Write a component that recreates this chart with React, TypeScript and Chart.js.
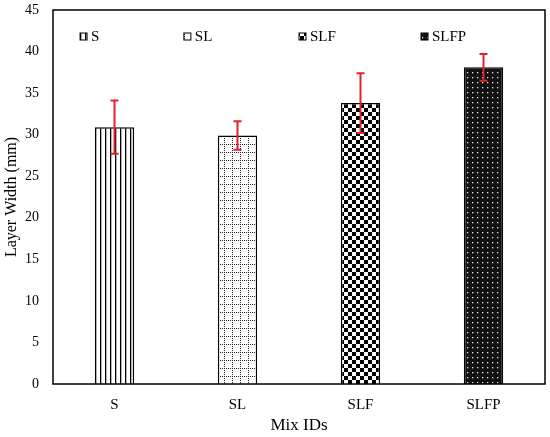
import { useRef, useEffect } from 'react';
import Chart from 'chart.js/auto';

const mixIds = ['S', 'SL', 'SLF', 'SLFP'];
const layerWidth = [30.9, 29.9, 33.8, 38.1];
const layerError = [3.2, 1.7, 3.6, 1.6];
const yTicks = [0, 5, 10, 15, 20, 25, 30, 35, 40, 45];

const FONT = "'Liberation Serif', 'Times New Roman', serif";

// little tiles that imitate the Excel pattern fills
function makePattern(kind: string): CanvasPattern | string {
  const c = document.createElement('canvas');
  const g = c.getContext('2d');
  if (!g) return '#fff';
  if (kind === 'lines') {
    c.width = 5; c.height = 5;
    g.fillStyle = '#fff'; g.fillRect(0, 0, 5, 5);
    g.fillStyle = '#000'; g.fillRect(0, 0, 1.3, 5);
  } else if (kind === 'grid') {
    c.width = 8; c.height = 8;
    g.fillStyle = '#fff'; g.fillRect(0, 0, 8, 8);
    g.fillStyle = '#222';
    for (let i = 0; i < 8; i += 2) {
      g.fillRect(0, i, 1, 1);
      g.fillRect(i, 0, 1, 1);
    }
  } else if (kind === 'checker') {
    c.width = 8; c.height = 8;
    g.fillStyle = '#fff'; g.fillRect(0, 0, 8, 8);
    g.fillStyle = '#000';
    g.fillRect(0, 0, 4, 4);
    g.fillRect(4, 4, 4, 4);
  } else {
    c.width = 5; c.height = 5;
    g.fillStyle = '#111'; g.fillRect(0, 0, 5, 5);
    g.fillStyle = '#e6e6e6'; g.fillRect(2, 2, 1.3, 1.3);
  }
  return g.createPattern(c, 'repeat') || '#fff';
}

export default function App() {
  const chartRef = useRef<HTMLCanvasElement>(null);
  const chartInstance = useRef<Chart | null>(null);

  useEffect(() => {
    document.body.style.margin = '0';
    if (!chartRef.current) return;
    if (chartInstance.current) chartInstance.current.destroy();
    const ctx = chartRef.current.getContext('2d');
    if (!ctx) return;

    const fills = ['lines', 'grid', 'checker', 'dots'].map(makePattern);

    const errorBars = {
      id: 'errorBars',
      afterDatasetsDraw(chart: any) {
        const { ctx: c, scales } = chart;
        const meta = chart.getDatasetMeta(0);
        c.save();
        c.strokeStyle = '#e3232b';
        c.lineWidth = 2;
        meta.data.forEach((bar: any, i: number) => {
          const top = scales.y.getPixelForValue(layerWidth[i] + layerError[i]);
          const bot = scales.y.getPixelForValue(layerWidth[i] - layerError[i]);
          c.beginPath();
          c.moveTo(bar.x, top); c.lineTo(bar.x, bot);
          c.moveTo(bar.x - 4, top); c.lineTo(bar.x + 4, top);
          c.moveTo(bar.x - 4, bot); c.lineTo(bar.x + 4, bot);
          c.stroke();
        });
        c.restore();
      },
    };

    const frameAndLegend = {
      id: 'frameAndLegend',
      afterDraw(chart: any) {
        const { ctx: c, chartArea: a } = chart;
        c.save();
        c.strokeStyle = '#000';
        c.lineWidth = 1.5;
        c.strokeRect(a.left, a.top, a.right - a.left, a.bottom - a.top);
        // legend row inside the plot, as in the original
        const starts = [0.055, 0.266, 0.5, 0.748];
        const y = a.top + 27;
        c.font = `15px ${FONT}`;
        c.textBaseline = 'middle';
        c.fillStyle = '#000';
        mixIds.forEach((id, i) => {
          const x = a.left + starts[i] * (a.right - a.left);
          c.fillStyle = fills[i];
          c.fillRect(x, y - 4, 7, 7);
          c.lineWidth = 1;
          c.strokeRect(x, y - 4, 7, 7);
          c.fillStyle = '#000';
          c.fillText(id, x + 11, y);
        });
        c.restore();
      },
    };

    chartInstance.current = new Chart(ctx, {
      type: 'bar',
      data: {
        labels: mixIds,
        datasets: [
          {
            label: 'Layer Width',
            data: layerWidth,
            backgroundColor: fills,
            borderColor: '#000',
            borderWidth: 1.5,
            barPercentage: 0.32,
            categoryPercentage: 1,
          },
        ],
      },
      options: {
        animation: false,
        responsive: true,
        maintainAspectRatio: false,
        layout: { padding: { left: 0, right: 5, top: 0, bottom: 0 } },
        plugins: {
          legend: { display: false },
          tooltip: { enabled: false },
        },
        scales: {
          x: {
            grid: { display: false },
            border: { display: false },
            ticks: { color: '#000', font: { family: FONT, size: 15 }, padding: 4 },
            title: {
              display: true,
              text: 'Mix IDs',
              color: '#000',
              font: { family: FONT, size: 17 },
              padding: { top: 0, bottom: 1 },
            },
            afterFit(scale: any) { scale.height = 53; },
          },
          y: {
            min: 0,
            max: 45,
            afterBuildTicks(scale: any) { scale.ticks = yTicks.map(v => ({ value: v })); },
            grid: { display: false },
            border: { display: false },
            ticks: { color: '#000', font: { family: FONT, size: 14 }, padding: 6 },
            title: {
              display: true,
              text: 'Layer Width (mm)',
              color: '#000',
              font: { family: FONT, size: 16 },
              padding: { top: 2, bottom: 0 },
            },
            afterFit(scale: any) {
              scale.width = 53;
              scale.paddingTop = 10;
            },
          },
        },
      },
      plugins: [errorBars, frameAndLegend],
    });

    return () => {
      if (chartInstance.current) {
        chartInstance.current.destroy();
        chartInstance.current = null;
      }
    };
  }, []);

  return (
    <div style={{ position: 'relative', width: 550, height: 437, background: '#fff' }}>
      <canvas ref={chartRef}></canvas>
    </div>
  );
}
